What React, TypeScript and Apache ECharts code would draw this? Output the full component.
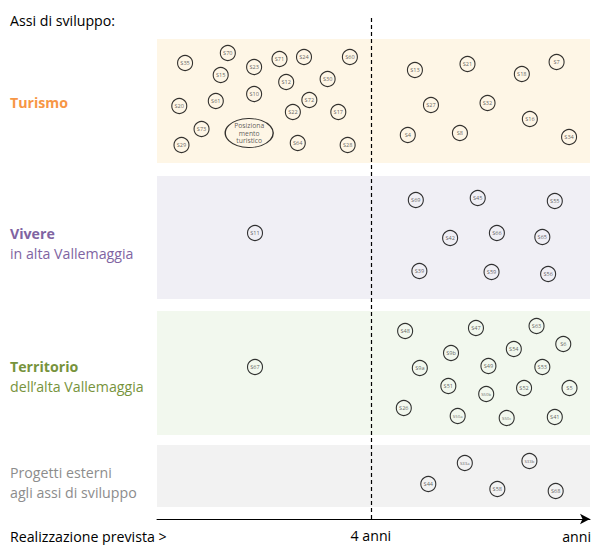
import React, { useEffect, useRef } from "react";
import * as echarts from "echarts";

const FONT = "'Open Sans', 'Noto Sans', sans-serif";
const FS = 14.2;

// x = mesi di realizzazione prevista (48 = 4 anni), y = quota verticale nel diagramma
const turismo: [string, number, number][] = [
  ["S35", 6.3, 456], ["S70", 15.9, 466], ["S23", 21.8, 452], ["S71", 27.5, 460],
  ["S24", 33.0, 462], ["S60", 43.3, 462], ["S15", 14.3, 444], ["S12", 29.0, 437],
  ["S30", 38.3, 440], ["S10", 21.8, 425], ["S20", 5.0, 413], ["S61", 13.2, 418],
  ["S72", 34.2, 419], ["S22", 30.5, 407], ["S17", 40.7, 407], ["S73", 10.0, 390],
  ["S64", 31.6, 376], ["S29", 5.5, 374], ["S28", 42.8, 374],
  ["S13", 57.9, 449], ["S21", 69.7, 455], ["S7", 89.7, 457], ["S18", 81.9, 445],
  ["S27", 61.5, 414], ["S32", 74.2, 416], ["S16", 83.7, 400], ["S4", 56.3, 384],
  ["S8", 68.0, 386], ["S34", 92.5, 382],
];
const turismoMain: [string, number, number][] = [["Posiziona\nmento\nturistico", 20.7, 386]];
const vivere: [string, number, number][] = [
  ["S11", 22.0, 286], ["S69", 58.1, 319], ["S45", 72.0, 321], ["S55", 89.3, 318],
  ["S42", 65.8, 281], ["S66", 76.3, 286], ["S65", 86.5, 282], ["S39", 58.9, 248],
  ["S59", 75.1, 247], ["S56", 87.8, 245],
];
const territorio: [string, number, number][] = [
  ["S67", 22.0, 152], ["S48", 55.7, 188], ["S47", 71.6, 191], ["S63", 85.2, 193],
  ["S6", 91.2, 175], ["S9b", 66.0, 166], ["S54", 80.1, 170], ["S9a", 59.0, 151],
  ["S49", 74.4, 153], ["S53", 86.5, 152], ["S51", 65.4, 133], ["S50b", 73.9, 125],
  ["S52", 82.4, 131], ["S5", 92.6, 131], ["S26", 55.4, 111], ["S50a", 67.5, 103],
  ["S50c", 78.5, 101], ["S41", 89.3, 102],
];
const esterni: [string, number, number][] = [
  ["S33a", 69.1, 56], ["S33b", 83.6, 58], ["S44", 60.9, 35], ["S58", 76.4, 30], ["S68", 89.5, 28],
];
const laneBands: [number, number][] = [[356, 480], [220, 343], [84, 208], [12, 74]];
const laneFills = ["#FEF6E6", "#F0EFF5", "#F2F8EE", "#F2F2F2"];
const xTicks = { min: 0, max: 97.2, interval: 48, milestone: 48 };
const smallLabels = ["S50a", "S50b", "S50c", "S33a", "S33b"];

export default function App() {
  const ref = useRef<HTMLDivElement>(null);
  useEffect(() => {
    const chart = echarts.init(ref.current!, null, { renderer: "svg" });
    const pts = [...turismo, ...vivere, ...territorio, ...esterni].map(([n, x, y]) => ({
      name: n,
      value: [x, y],
      label: smallLabels.includes(n) ? { fontSize: 4.3 } : undefined,
    }));
    const txt = (text: string, x: number, y: number, fill: string, bold = false, align = "left") => ({
      type: "text",
      x,
      y,
      silent: true,
      style: {
        text,
        fill,
        fontSize: FS,
        fontFamily: FONT,
        fontWeight: bold ? "bold" : "normal",
        verticalAlign: "middle",
        align,
      },
    });
    chart.setOption({
      animation: false,
      grid: { left: 157, right: 3, top: 16, bottom: 26 },
      xAxis: {
        type: "value",
        min: xTicks.min,
        max: xTicks.max,
        interval: xTicks.interval,
        splitLine: { show: false },
        axisTick: { show: false },
        axisLine: {
          show: true,
          symbol: ["none", "arrow"],
          symbolSize: [8, 10],
          lineStyle: { color: "#000", width: 1 },
        },
        axisLabel: {
          formatter: (v: number) => (v === xTicks.milestone ? "4 anni" : ""),
          fontSize: FS,
          color: "#000",
          margin: 9,
          fontFamily: FONT,
        },
      },
      yAxis: { type: "value", min: 0, max: 503, show: false },
      graphic: [
        txt("Assi di sviluppo:", 10, 20, "#000"),
        txt("Turismo", 10, 102, "#F79646", true),
        txt("Vivere", 10, 233, "#8064A2", true),
        txt("in alta Vallemaggia", 10, 253, "#8064A2"),
        txt("Territorio", 10, 366, "#77933C", true),
        txt("dell\u2019alta Vallemaggia", 10, 386, "#77933C"),
        txt("Progetti esterni", 10, 472, "#8C8C8C"),
        txt("agli assi di sviluppo", 10, 492, "#8C8C8C"),
        txt("Realizzazione prevista >", 10, 536, "#000"),
        txt("anni", 591, 536, "#000", false, "right"),
      ],
      series: [
        {
          type: "scatter",
          data: [],
          z: 1,
          silent: true,
          markArea: {
            silent: true,
            data: laneBands.map((b, i) => [
              { yAxis: b[0], itemStyle: { color: laneFills[i] } },
              { yAxis: b[1] },
            ]),
          },
          markLine: {
            silent: true,
            symbol: ["none", "none"],
            label: { show: false },
            lineStyle: { type: [4, 3], color: "#000", width: 1.2 },
            data: [{ xAxis: xTicks.milestone }],
          },
        },
        {
          type: "scatter",
          z: 3,
          symbol: "circle",
          symbolSize: 15,
          data: pts,
          itemStyle: { color: "rgba(0,0,0,0)", borderColor: "#000", borderWidth: 1.1 },
          label: {
            show: true,
            position: "inside",
            formatter: "{b}",
            fontSize: 5.6,
            color: "#404040",
            fontFamily: FONT,
          },
        },
        {
          type: "scatter",
          z: 3,
          symbol: "circle",
          symbolSize: [48, 29],
          data: turismoMain.map(([n, x, y]) => ({ name: n, value: [x, y] })),
          itemStyle: { color: "rgba(0,0,0,0)", borderColor: "#000", borderWidth: 1.1 },
          label: {
            show: true,
            position: "inside",
            formatter: "{b}",
            fontSize: 6.8,
            lineHeight: 7.6,
            color: "#333",
            fontFamily: FONT,
          },
        },
      ],
    });
    return () => chart.dispose();
  }, []);
  return (
    <div
      ref={ref}
      style={{ position: "fixed", left: 0, top: 0, width: 593, height: 545, background: "#fff" }}
    />
  );
}
